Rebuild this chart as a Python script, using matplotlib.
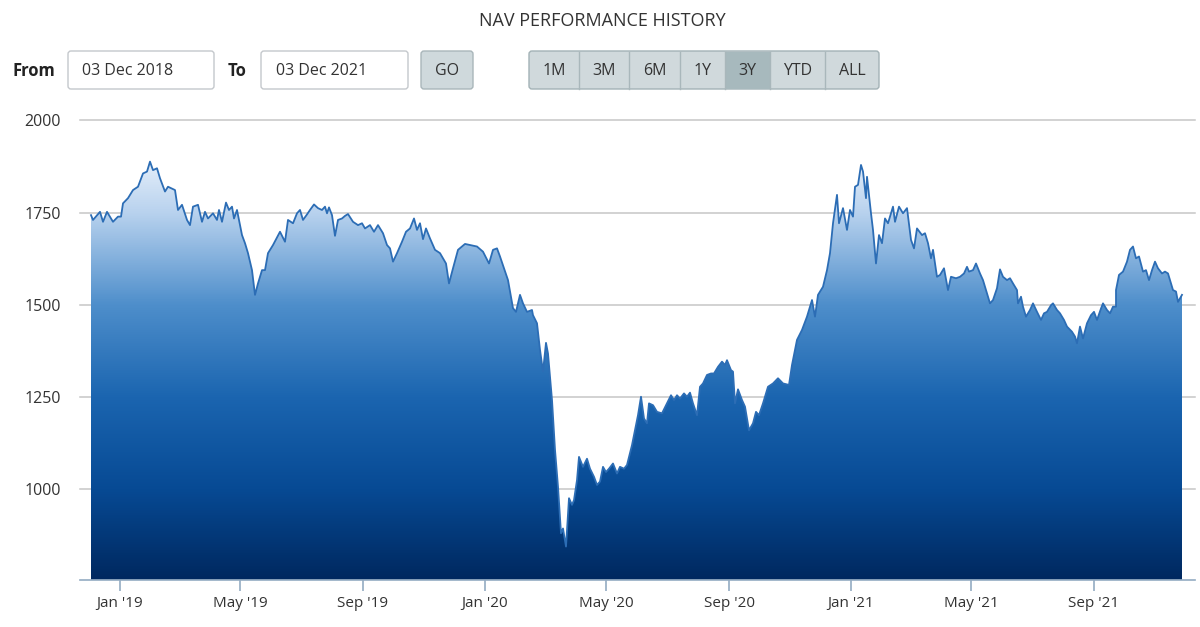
import matplotlib
matplotlib.use("Agg")
import matplotlib.pyplot as plt
import matplotlib.dates as mdates
from matplotlib.colors import LinearSegmentedColormap
from matplotlib.patches import FancyBboxPatch, Rectangle
import numpy as np
import pandas as pd

plt.rcParams['font.family'] = ['Open Sans', 'DejaVu Sans']

# ---------------- data ----------------
start_date = "2018-12-03"
# days since start_date
day_offsets = [
    0, 2, 9, 12, 16, 22, 27, 30, 32, 37, 42, 47, 52, 56, 59, 62, 66, 69, 74, 77,
    84, 87, 91, 96, 99, 102, 107, 111, 114, 117, 122, 126, 128, 131, 135, 138, 141, 143, 146, 151,
    154, 157, 161, 164, 167, 171, 174, 177, 182, 189, 194, 197, 202, 206, 209, 212, 216, 219, 223, 227,
    231, 234, 236, 238, 241, 244, 247, 251, 254, 257, 262, 267, 271, 274, 279, 283, 287, 292, 296, 299,
    302, 306, 311, 315, 319, 323, 326, 329, 332, 335, 339, 344, 349, 355, 358, 362, 367, 374, 379, 386,
    392, 398, 402, 406, 409, 413, 417, 422, 425, 429, 432, 436, 441, 442, 446, 449, 452, 455, 457, 461,
    464, 467, 470, 472, 475, 478, 481, 483, 486, 488, 492, 496, 499, 503, 506, 509, 512, 515, 518, 522,
    526, 529, 533, 536, 541, 544, 547, 550, 553, 556, 558, 562, 566, 571, 575, 580, 583, 586, 589, 593,
    596, 599, 602, 606, 609, 612, 616, 620, 623, 627, 631, 634, 636, 640, 642, 644, 647, 651, 654, 658,
    662, 665, 668, 672, 677, 682, 687, 692, 698, 701, 706, 711, 716, 721, 724, 727, 732, 736, 739, 742,
    746, 748, 752, 756, 759, 762, 764, 767, 770, 772, 775, 776, 780, 782, 785, 788, 791, 794, 797, 802,
    804, 808, 812, 816, 820, 823, 826, 831, 834, 837, 840, 842, 846, 849, 853, 857, 860, 865, 869, 873,
    876, 878, 882, 885, 889, 892, 896, 899, 902, 906, 909, 912, 916, 919, 922, 926, 927, 930, 932, 935,
    939, 942, 946, 950, 953, 956, 960, 962, 966, 969, 973, 976, 981, 984, 986, 989, 992, 996, 1000, 1003,
    1006, 1010, 1012, 1016, 1019, 1022, 1025, 1025, 1028, 1032, 1036, 1039, 1042, 1045, 1048, 1052, 1055, 1058,
    1061, 1064, 1067, 1071, 1074, 1077, 1082, 1085, 1087, 1091, 1092,
]
nav_values = [
    1743, 1730, 1752, 1725, 1752, 1725, 1739, 1739, 1775, 1789, 1811, 1820, 1856, 1861, 1888, 1865, 1870, 1843, 1807, 1820,
    1811, 1757, 1771, 1730, 1716, 1766, 1771, 1725, 1752, 1734, 1748, 1730, 1757, 1725, 1777, 1757, 1766, 1734, 1757, 1689,
    1667, 1640, 1594, 1527, 1558, 1594, 1594, 1640, 1662, 1698, 1671, 1730, 1721, 1748, 1757, 1730, 1745, 1757, 1772, 1762,
    1757, 1766, 1748, 1764, 1743, 1687, 1730, 1734, 1741, 1746, 1725, 1716, 1721, 1707, 1716, 1698, 1716, 1694, 1662, 1653,
    1617, 1640, 1671, 1698, 1707, 1734, 1703, 1721, 1678, 1707, 1680, 1649, 1640, 1612, 1558, 1599, 1649, 1665, 1662, 1658,
    1644, 1612, 1649, 1653, 1631, 1599, 1567, 1491, 1481, 1527, 1504, 1481, 1486, 1472, 1450, 1378, 1319, 1397, 1368, 1242,
    1107, 1007, 881, 894, 845, 976, 958, 971, 1025, 1088, 1061, 1083, 1056, 1034, 1012, 1021, 1061, 1047, 1056, 1070,
    1043, 1061, 1056, 1066, 1120, 1161, 1201, 1251, 1192, 1179, 1233, 1228, 1210, 1206, 1228, 1255, 1242, 1255, 1246, 1260,
    1251, 1262, 1233, 1201, 1278, 1287, 1310, 1314, 1314, 1332, 1346, 1337, 1350, 1323, 1319, 1233, 1271, 1242, 1224, 1160,
    1179, 1210, 1201, 1233, 1278, 1287, 1301, 1287, 1283, 1337, 1405, 1432, 1468, 1513, 1468, 1527, 1549, 1594, 1640, 1721,
    1798, 1721, 1762, 1703, 1757, 1739, 1820, 1825, 1879, 1861, 1789, 1847, 1748, 1703, 1612, 1689, 1667, 1734, 1721, 1766,
    1725, 1766, 1748, 1762, 1676, 1653, 1707, 1689, 1694, 1667, 1626, 1649, 1576, 1581, 1599, 1540, 1576, 1572, 1576, 1585,
    1603, 1590, 1594, 1612, 1585, 1567, 1531, 1504, 1513, 1545, 1596, 1576, 1567, 1572, 1558, 1540, 1504, 1522, 1495, 1468,
    1486, 1504, 1481, 1459, 1477, 1481, 1499, 1504, 1486, 1477, 1459, 1441, 1427, 1414, 1396, 1441, 1409, 1450, 1472, 1481,
    1459, 1490, 1504, 1486, 1477, 1495, 1495, 1540, 1581, 1590, 1617, 1649, 1658, 1626, 1631, 1590, 1594, 1567, 1594, 1617,
    1599, 1585, 1590, 1585, 1540, 1536, 1508, 1527,
]
# trim in case of any mismatch
n = min(len(day_offsets), len(nav_values))
day_offsets = day_offsets[:n]
nav_values = nav_values[:n]

y_ticks = [1000, 1250, 1500, 1750, 2000]
x_tick_dates = ["2019-01-01", "2019-05-01", "2019-09-01", "2020-01-01", "2020-05-01",
                "2020-09-01", "2021-01-01", "2021-05-01", "2021-09-01"]
x_tick_labels = ["Jan '19", "May '19", "Sep '19", "Jan '20", "May '20",
                 "Sep '20", "Jan '21", "May '21", "Sep '21"]
title = "NAV PERFORMANCE HISTORY"
from_date_text = "03 Dec 2018"
to_date_text = "03 Dec 2021"
range_buttons = ["1M", "3M", "6M", "1Y", "3Y", "YTD", "ALL"]
selected_button = "3Y"

# ---------------- figure ----------------
W, H = 1200, 627
fig = plt.figure(figsize=(W / 100, H / 100), dpi=100)
fig.patch.set_facecolor("white")

# overlay axes in pixel coordinates for the header controls
ov = fig.add_axes([0, 0, 1, 1], zorder=0)
ov.set_xlim(0, W)
ov.set_ylim(H, 0)
ov.axis("off")

TXT = "#333333"
ov.text(602, 21, title, ha="center", va="center", fontsize=13, color=TXT)

def rbox(x0, x1, y0, y1, fc, ec, r=3, lw=1.0, z=1):
    p = FancyBboxPatch((x0, y0), x1 - x0, y1 - y0,
                       boxstyle=f"round,pad=0,rounding_size={r}",
                       fc=fc, ec=ec, lw=lw, zorder=z)
    ov.add_patch(p)

cy = 71
ov.text(12, cy, "From", ha="left", va="center", fontsize=12, fontweight="bold", color="#222222")
rbox(68, 214, 51, 89, "white", "#c4c8cc")
ov.text(82, cy, from_date_text, ha="left", va="center", fontsize=11.5, color=TXT)
ov.text(228, cy, "To", ha="left", va="center", fontsize=12, fontweight="bold", color="#222222")
rbox(261, 408, 51, 89, "white", "#c4c8cc")
ov.text(276, cy, to_date_text, ha="left", va="center", fontsize=11.5, color=TXT)
rbox(421, 473, 51, 89, "#cfd9dc", "#a9b6ba")
ov.text(447, cy, "GO", ha="center", va="center", fontsize=11.5, color=TXT)

edges = [529, 579, 629, 680, 725, 770, 825, 879]
rbox(edges[0], edges[-1], 51, 89, "#d0d9dc", "#a3b2b6", z=1)
for i, lab in enumerate(range_buttons):
    x0, x1 = edges[i], edges[i + 1]
    if lab == selected_button:
        ov.add_patch(Rectangle((x0, 51.5), x1 - x0, 37, fc="#a7b9bd", ec="none", zorder=2))
    if i > 0:
        ov.plot([x0, x0], [51.5, 88.5], color="#a9b7bb", lw=1, zorder=3)
    ov.text((x0 + x1) / 2, cy, lab, ha="center", va="center", fontsize=11.5, color=TXT, zorder=4)

# ---------------- main chart ----------------
k = 369.3 / 1000.0  # px per unit
ymin, ymax = 755, 2003
y_bot_px = 489.3 + (1000 - ymin) * k
y_top_px = 120.3 - (ymax - 2000) * k
x_left_px, x_right_px = 80, 1195
ax = fig.add_axes([x_left_px / W, 1 - y_bot_px / H,
                   (x_right_px - x_left_px) / W, (y_bot_px - y_top_px) / H], zorder=1)
ax.patch.set_alpha(0)

dates = pd.Timestamp(start_date) + pd.to_timedelta(day_offsets, unit="D")
xnum = mdates.date2num(dates.to_pydatetime())
vals = np.array(nav_values, dtype=float)

x_lo = mdates.date2num(pd.Timestamp(start_date)) - 11
x_hi = x_lo + (x_right_px - x_left_px)
ax.set_xlim(x_lo, x_hi)
ax.set_ylim(ymin, ymax)

# gradient fill
stops = [
    (ymin, "#00285f"),
    (1000, "#074a94"),
    (1250, "#1b65b0"),
    (1500, "#4e8ecb"),
    (1750, "#b8d2ee"),
    (1890, "#e4eefa"),
    (ymax, "#eef4fb"),
]
cmap = LinearSegmentedColormap.from_list(
    "navgrad", [((v - ymin) / (ymax - ymin), c) for v, c in stops])
grad = np.linspace(0, 1, 512).reshape(-1, 1)
im = ax.imshow(grad, cmap=cmap, aspect="auto", origin="lower",
               extent=[x_lo, x_hi, ymin, ymax], zorder=1, interpolation="bilinear")
fb = ax.fill_between(xnum, vals, ymin, color="none", lw=0)
im.set_clip_path(fb.get_paths()[0], transform=ax.transData)
ax.plot(xnum, vals, color="#2c6db5", lw=1.3, zorder=3, solid_joinstyle="round")

# grid
for yv in y_ticks:
    ax.axhline(yv, color="#c6c6c6", lw=1.1, zorder=0.5, clip_on=False)

for s in ["top", "right", "left"]:
    ax.spines[s].set_visible(False)
ax.spines["bottom"].set_color("#93abc2")
ax.spines["bottom"].set_linewidth(1.2)
ax.spines["bottom"].set_zorder(4)

ax.set_yticks(y_ticks)
ax.set_yticklabels([str(v) for v in y_ticks])
ax.tick_params(axis="y", length=0, pad=14, labelsize=11.5, labelcolor=TXT)

xt = mdates.date2num(pd.to_datetime(x_tick_dates).to_pydatetime())
ax.set_xticks(xt)
ax.set_xticklabels(x_tick_labels)
ax.tick_params(axis="x", length=8, width=1.2, color="#93abc2", pad=4,
               labelsize=11, labelcolor=TXT)

fig.savefig("out.png", dpi=100, facecolor="white")
